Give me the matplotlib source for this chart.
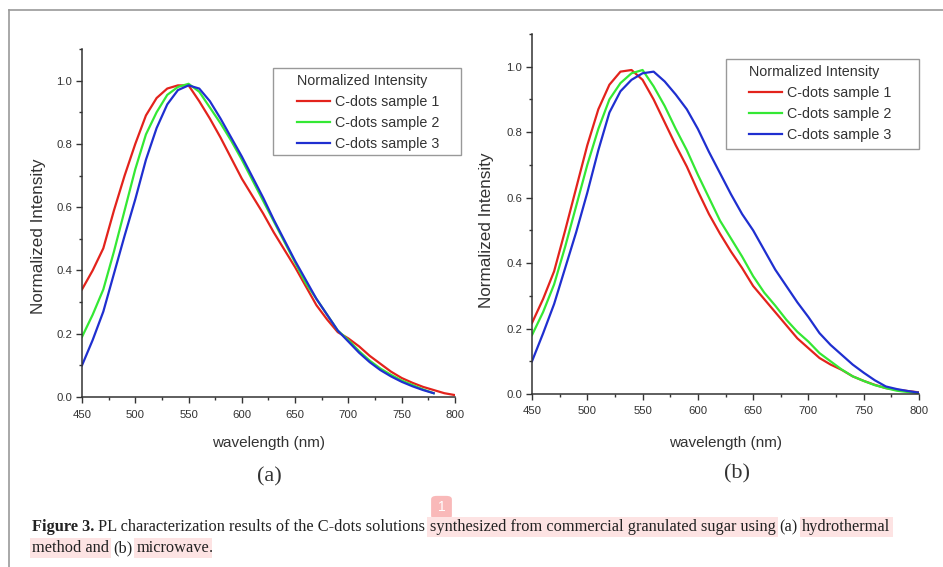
import matplotlib
matplotlib.use("Agg")
import matplotlib.pyplot as plt
import numpy as np
from matplotlib.lines import Line2D
from matplotlib.patches import Rectangle, FancyBboxPatch
from matplotlib.ticker import MultipleLocator

W, H = 943, 567

wavelength = np.arange(450, 801, 10)

# panel (a) hydrothermal
a_s1 = [0.34, 0.40, 0.47, 0.59, 0.70, 0.80, 0.89, 0.945, 0.975, 0.985, 0.985, 0.935,
        0.88, 0.82, 0.755, 0.69, 0.635, 0.58, 0.52, 0.465, 0.41, 0.35, 0.29, 0.245,
        0.205, 0.185, 0.16, 0.13, 0.105, 0.08, 0.06, 0.045, 0.032, 0.022, 0.012, 0.006]
a_s2 = [0.19, 0.26, 0.34, 0.46, 0.59, 0.72, 0.83, 0.90, 0.955, 0.98, 0.99, 0.965,
        0.915, 0.865, 0.81, 0.75, 0.685, 0.62, 0.555, 0.49, 0.425, 0.36, 0.31, 0.26,
        0.21, 0.18, 0.145, 0.115, 0.09, 0.07, 0.052, 0.038, 0.024, 0.012]
a_s3 = [0.10, 0.18, 0.27, 0.39, 0.51, 0.625, 0.75, 0.85, 0.925, 0.97, 0.985, 0.975,
        0.935, 0.88, 0.82, 0.76, 0.695, 0.63, 0.56, 0.495, 0.43, 0.37, 0.31, 0.26,
        0.21, 0.175, 0.14, 0.11, 0.085, 0.065, 0.048, 0.034, 0.022, 0.012]

# panel (b) microwave
b_s1 = [0.217, 0.29, 0.375, 0.50, 0.63, 0.76, 0.87, 0.945, 0.985, 0.99, 0.96, 0.90,
        0.83, 0.76, 0.695, 0.62, 0.55, 0.49, 0.435, 0.385, 0.33, 0.29, 0.25, 0.21,
        0.17, 0.14, 0.11, 0.09, 0.074, 0.054, 0.04, 0.028, 0.018, 0.013, 0.009, 0.005]
b_s2 = [0.18, 0.25, 0.335, 0.45, 0.575, 0.70, 0.81, 0.90, 0.95, 0.98, 0.99, 0.94,
        0.88, 0.81, 0.745, 0.67, 0.60, 0.53, 0.475, 0.42, 0.36, 0.31, 0.27, 0.227,
        0.19, 0.16, 0.125, 0.10, 0.075, 0.054, 0.04, 0.027, 0.018, 0.01, 0.006, 0.003]
b_s3 = [0.10, 0.185, 0.275, 0.385, 0.495, 0.615, 0.745, 0.86, 0.925, 0.96, 0.98, 0.985,
        0.955, 0.915, 0.87, 0.81, 0.74, 0.675, 0.61, 0.55, 0.50, 0.44, 0.38, 0.33,
        0.28, 0.235, 0.186, 0.15, 0.12, 0.09, 0.065, 0.042, 0.023, 0.015, 0.009, 0.004]

labels = ["C-dots sample 1", "C-dots sample 2", "C-dots sample 3"]
colors = ["#e3231c", "#34e834", "#1f2fd0"]

plt.rcParams["font.family"] = ["Liberation Sans", "DejaVu Sans"]

fig = plt.figure(figsize=(W / 100, H / 100), dpi=100)


def fx(px):
    return px / W


def fy(py):
    return 1 - py / H


def make_axes(l, r, t, b):
    ax = fig.add_axes([fx(l), fy(b), fx(r - l), (b - t) / H])
    ax.set_xlim(450, 800)
    ax.set_ylim(0, 1.1)
    for s in ("top", "right"):
        ax.spines[s].set_visible(False)
    for s in ("left", "bottom"):
        ax.spines[s].set_color("#333333")
        ax.spines[s].set_linewidth(1.1)
    ax.xaxis.set_major_locator(MultipleLocator(50))
    ax.xaxis.set_minor_locator(MultipleLocator(25))
    ax.yaxis.set_minor_locator(MultipleLocator(0.1))
    ax.set_yticks(np.arange(0, 1.01, 0.2))
    ax.set_yticklabels(["%.1f" % v for v in np.arange(0, 1.01, 0.2)])
    ax.tick_params(which="major", length=4, width=1, color="#333333",
                   labelsize=8.2, labelcolor="#333333")
    ax.tick_params(which="minor", length=2.5, width=1, color="#333333")
    ax.tick_params(axis="x", pad=5)
    ax.tick_params(axis="y", pad=3)
    return ax


panels = [
    (make_axes(82, 455, 49, 397), [a_s1, a_s2, a_s3]),
    (make_axes(532, 919, 34, 394), [b_s1, b_s2, b_s3]),
]

for ax, series in panels:
    for ys, lab, c in zip(series, labels, colors):
        ax.plot(wavelength[:len(ys)], ys, color=c, lw=1.6, label=lab)

# axis labels
for cx, cy, ylx, yly in [(269, 443, 39, 236), (726, 443, 487, 230)]:
    fig.text(fx(cx), fy(cy), "wavelength (nm)", fontsize=11, color="#333333",
             ha="center", va="center")
    fig.text(fx(ylx), fy(yly), "Normalized Intensity", fontsize=12.3, color="#333333",
             ha="center", va="center", rotation=90)

fig.text(fx(269), fy(477), "(a)", fontsize=16, family="Liberation Serif",
         color="#333333", ha="center", va="center")
fig.text(fx(737), fy(474), "(b)", fontsize=16, family="Liberation Serif",
         color="#333333", ha="center", va="center")

# legends
for (ax, _), box, anchor in [
    (panels[0], (273, 68, 461, 155), (297, 74)),
    (panels[1], (726, 59, 919, 149), (749, 65)),
]:
    l, t, r, b = box
    ax.add_patch(Rectangle((fx(l), fy(b)), fx(r - l), (b - t) / H,
                           transform=fig.transFigure, facecolor="white",
                           edgecolor="#999999", lw=1.0, zorder=4, clip_on=False))
    leg = ax.legend(loc="upper left", bbox_to_anchor=(fx(anchor[0]), fy(anchor[1])),
                    bbox_transform=fig.transFigure, frameon=False, fontsize=10.3,
                    title="Normalized Intensity", title_fontsize=10.3, alignment="left",
                    handlelength=2.3, handletextpad=0.35, labelspacing=0.48,
                    borderpad=0, borderaxespad=0)
    leg.set_zorder(6)
    for t_ in leg.get_texts():
        t_.set_color("#333333")
    leg.get_title().set_color("#333333")

# page frame lines
fig.add_artist(Line2D([fx(9), 1], [fy(10), fy(10)], color="#9a9a9a", lw=1.2))
fig.add_artist(Line2D([fx(9), fx(9)], [fy(10), 0], color="#9a9a9a", lw=1.2))

# caption
renderer = fig.canvas.get_renderer()
cap_size = 11.8
serif = "Liberation Serif"


def text_width(s, bold=False):
    t = fig.text(0, 0, s, fontsize=cap_size, family=serif,
                 weight="bold" if bold else "normal")
    w = t.get_window_extent(renderer).width
    t.remove()
    return w


space_w = text_width("x x") - text_width("xx")


def draw_line(x0, y0, runs):
    x = x0
    for txt, bold, hl in runs:
        if txt == " ":
            x += space_w
            continue
        kw = {}
        if hl:
            kw["bbox"] = dict(facecolor="#fde3e3", edgecolor="none", pad=1.6)
        t = fig.text(fx(x), fy(y0), txt, fontsize=cap_size, family=serif,
                     weight="bold" if bold else "normal", color="#222222",
                     ha="left", va="center", **kw)
        x += t.get_window_extent(renderer).width


draw_line(32, 527, [
    ("Figure 3.", True, False), (" ", False, False),
    ("PL characterization results of the C-dots solutions", False, False),
    (" ", False, False),
    ("synthesized from commercial granulated sugar using", False, True),
    (" ", False, False), ("(a)", False, False), (" ", False, False),
    ("hydrothermal", False, True),
])
draw_line(32, 548, [
    ("method and", False, True), (" ", False, False), ("(b)", False, False),
    (" ", False, False), ("microwave", False, True), (".", False, False),
])

# annotation badge
fig.patches.append(FancyBboxPatch((fx(433), fy(518)), fx(17), 21 / H,
                                  boxstyle="round,pad=0.002,rounding_size=0.006",
                                  transform=fig.transFigure, facecolor="#f9b9b9",
                                  edgecolor="none"))
fig.text(fx(441.5), fy(507), "1", fontsize=10, color="white", ha="center", va="center")

fig.savefig("out.png", dpi=100)
